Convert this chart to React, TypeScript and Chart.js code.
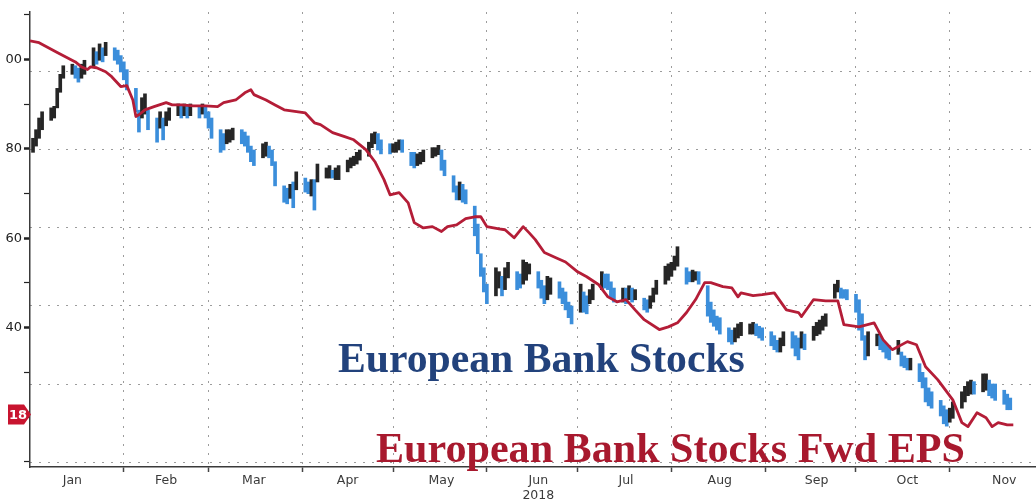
import React, { useEffect, useRef } from 'react';
import { Chart, registerables } from 'chart.js';

Chart.register(...registerables);

// ---------- DATA ----------
const monthLabels = ['Jan', 'Feb', 'Mar', 'Apr', 'May', 'Jun', 'Jul', 'Aug', 'Sep', 'Oct', 'Nov'];
const yearLabel = '2018';
const yearLabelMonth = 'Jun';
// day-of-year (Jan 1 = 0) of the start of each month after January
const monthStartDays = [31, 59, 90, 120, 151, 181, 212, 243, 273, 304];
// day-of-year where each month name sits
const monthLabelDays = [14, 45, 74, 105, 136, 168, 197, 228, 260, 290, 322];

// left axis (Fwd EPS) – labels are cut off at the left edge of the picture
const epsAxisTicks = [10, 20, 30, 40, 50, 60, 70, 80, 90, 100, 110];
const epsTickValues = [100, 80, 60, 40];
const epsTickLabels = ['00', '80', '60', '40'];
const epsBadgeValue = 20.6;
const epsBadgeLabel = '18';

// hidden right axis (index level) – only its grid is visible
const stockGridValues = [80, 90, 100, 110, 120, 130];

// Fwd EPS line: day-of-year and value
const epsDays = [
  0, 3, 9, 15, 17, 19, 20, 22, 25, 27,
  30, 32, 34, 35, 36, 38, 41, 45, 47, 50,
  54, 58, 62, 64, 68, 71, 73, 74, 78, 81,
  84, 91, 94, 96, 100, 104, 107, 111, 114, 117,
  119, 122, 125, 127, 130, 133, 136, 138, 141, 144,
  147, 149, 151, 155, 157, 160, 163, 165, 167, 170,
  174, 177, 181, 184, 188, 191, 194, 197, 200, 203,
  208, 211, 214, 217, 220, 223, 225, 229, 232, 234,
  235, 239, 242, 246, 250, 254, 255, 259, 263, 267,
  269, 274, 279, 282, 285, 290, 293, 296, 300, 305,
  308, 310, 313, 316, 318, 320, 323, 325,
];
const epsValues = [
  104.1, 103.7, 101.5, 99.4, 98.3, 97.7, 98.3, 98.1, 97.2, 96.1,
  93.9, 94.1, 90.9, 87.2, 87.6, 88.7, 89.4, 90.3, 89.8, 89.8,
  89.6, 89.6, 89.4, 90.3, 90.9, 92.5, 93.2, 92.1, 90.9, 89.8,
  88.7, 88.0, 85.8, 85.4, 83.6, 82.7, 82.0, 79.8, 77.1, 73.1,
  69.7, 70.2, 67.9, 63.5, 62.3, 62.6, 61.5, 62.6, 63.0, 64.4,
  64.8, 64.8, 62.6, 62.1, 61.9, 60.1, 62.6, 61.2, 59.7, 56.8,
  55.6, 54.7, 52.5, 51.4, 49.6, 46.9, 45.8, 46.3, 44.0, 41.8,
  39.6, 40.2, 41.1, 43.4, 46.3, 50.1, 50.1, 49.2, 48.9, 46.9,
  47.8, 47.2, 47.4, 47.8, 44.0, 43.4, 42.5, 46.3, 46.0, 46.0,
  40.7, 40.2, 41.1, 37.3, 35.1, 36.9, 36.2, 31.3, 28.4, 23.9,
  18.8, 17.9, 21.0, 19.9, 17.9, 18.8, 18.3, 18.3,
];

// European bank stocks: daily high / low, one row per week (Mon..Fri), from Tue Jan 2
const stockHigh = [
  121.5, 122.6, 124.1, 124.9,
  125.4, 125.6, 127.9, 129.7, 130.8,
  131.0, 130.8, 130.5, 131.0, 131.5,
  133.1, 132.6, 133.6, 133.1, 133.8,
  133.1, 132.8, 132.1, 131.3, 130.3,
  127.9, 125.1, 126.7, 127.2, 125.1,
  124.1, 124.9, 124.1, 124.9, 125.4,
  125.9, 125.6, 125.9, 125.6, 125.9,
  125.6, 125.9, 125.6, 124.9, 124.1,
  122.6, 122.1, 122.6, 122.6, 122.8,
  122.6, 122.3, 121.8, 120.5, 120.0,
  120.8, 121.0, 120.5, 120.0, 118.5,
  115.4, 115.1, 115.6, 115.9, 117.2,
  116.4, 115.9, 116.2, 116.2, 118.2,
  117.7, 118.0, 117.4, 117.7, 118.0,
  118.7, 119.0, 119.2, 119.7, 120.0,
  121.0, 122.1, 122.3, 122.1, 121.3,
  120.8, 120.8, 121.0, 121.3, 121.3,
  119.7, 119.7, 119.5, 119.7, 120.0,
  120.3, 120.3, 120.6, 120.0, 118.7,
  116.7, 115.4, 115.9, 115.6, 114.9,
  112.8, 110.5, 106.7, 104.9, 102.8,
  104.9, 104.4, 103.8, 104.9, 105.6,
  104.4, 104.1, 105.9, 105.6, 105.4,
  104.4, 103.3, 102.6, 103.8, 103.6,
  103.1, 102.3, 101.8, 100.5, 100.0,
  102.8, 101.8, 101.3, 102.1, 102.8,
  104.4, 104.1, 104.1, 103.1, 102.3,
  102.3, 102.3, 102.6, 102.3, 102.1,
  101.0, 100.8, 101.3, 102.3, 103.3,
  105.1, 105.4, 105.6, 106.4, 107.6,
  104.9, 104.4, 104.6, 104.4, 104.4,
  102.6, 100.5, 99.5, 98.7, 98.5,
  97.2, 96.9, 97.2, 97.7, 97.9,
  97.7, 97.9, 97.7, 97.4, 97.2,
  96.7, 96.2, 95.6, 95.9, 96.7,
  96.7, 96.2, 95.9, 96.7, 96.4,
  97.4, 97.9, 98.2, 98.7, 99.0,
  102.8, 103.3, 102.3, 102.1, 102.1,
  101.5, 100.8, 99.0, 96.2, 96.7,
  96.4, 96.2, 95.6, 95.1, 94.9,
  95.6, 94.1, 93.6, 93.3, 93.3,
  92.6, 91.5, 90.8, 89.5, 89.0,
  87.9, 87.2, 86.7, 86.9, 87.7,
  89.0, 89.7, 90.3, 90.5, 90.3,
  91.3, 91.3, 90.5, 90.0, 90.0,
  89.2, 88.7, 88.2,
];
const stockLow = [
  119.7, 120.5, 121.5, 122.6,
  123.8, 124.1, 125.4, 127.4, 129.2,
  129.7, 129.2, 128.7, 129.2, 129.7,
  130.8, 131.0, 131.5, 131.3, 132.1,
  131.5, 131.0, 130.0, 129.0, 127.7,
  124.9, 122.3, 124.1, 124.6, 122.6,
  121.0, 122.8, 121.3, 123.1, 123.8,
  124.4, 124.1, 124.4, 124.1, 124.4,
  124.1, 124.6, 124.1, 122.8, 121.5,
  119.7, 120.0, 120.8, 121.0, 121.3,
  120.8, 120.5, 119.7, 118.5, 118.0,
  119.0, 119.2, 119.0, 118.0, 115.4,
  113.3, 113.1, 113.8, 112.6, 114.9,
  114.6, 114.4, 114.1, 112.3, 115.9,
  116.4, 116.4, 116.4, 116.2, 116.2,
  117.2, 117.7, 118.0, 118.2, 118.7,
  119.2, 120.3, 120.8, 120.0, 119.5,
  119.5, 119.7, 119.7, 120.0, 119.7,
  118.0, 117.7, 118.0, 118.2, 118.5,
  119.0, 119.2, 119.4, 117.4, 116.7,
  114.6, 113.6, 113.6, 113.3, 113.1,
  109.0, 106.7, 103.8, 101.8, 100.3,
  101.3, 102.3, 101.3, 102.1, 103.6,
  102.1, 102.3, 102.8, 103.3, 104.1,
  102.3, 101.0, 100.3, 100.8, 101.5,
  101.0, 100.3, 99.5, 98.5, 97.7,
  99.2, 99.2, 99.0, 100.3, 100.8,
  102.1, 102.3, 102.1, 101.0, 100.5,
  100.5, 100.3, 100.8, 100.5, 100.8,
  99.5, 99.2, 99.7, 100.5, 101.5,
  102.8, 103.3, 103.8, 104.6, 105.1,
  102.8, 103.1, 103.1, 103.3, 102.8,
  98.7, 97.9, 97.4, 96.9, 96.4,
  95.4, 95.1, 95.4, 95.9, 96.2,
  96.4, 96.4, 96.2, 95.9, 95.6,
  94.9, 94.4, 94.1, 94.1, 94.9,
  94.6, 93.6, 93.1, 94.6, 94.4,
  95.6, 96.2, 96.4, 96.9, 97.4,
  101.0, 101.8, 101.0, 101.0, 100.8,
  99.2, 96.9, 95.6, 93.1, 93.6,
  94.9, 94.4, 94.1, 93.3, 93.1,
  93.8, 92.3, 92.1, 91.8, 91.8,
  90.3, 89.5, 87.7, 87.2, 86.9,
  85.9, 84.9, 84.6, 85.1, 85.6,
  86.9, 87.7, 88.5, 88.7, 88.7,
  89.0, 89.2, 88.5, 88.2, 87.9,
  87.4, 86.7, 86.7,
];

const stocksTitle = 'European Bank Stocks';
const epsTitle = 'European Bank Stocks Fwd EPS';

// ---------- STYLE ----------
const UP_COLOR = '#262626';
const DOWN_COLOR = '#3b8edb';
const EPS_COLOR = '#b41d37';
const TITLE_BLUE = '#22427c';
const TITLE_RED = '#a8192e';
const GRID_COLOR = '#9c9c9c';
const AXIS_COLOR = '#3a3a3a';
const BADGE_COLOR = '#c8142f';

// weekdays (2018-01-01 was a Monday, day 0 is New Year holiday)
const stockDays: number[] = [];
for (let d = 1; stockDays.length < stockHigh.length; d++) {
  if (d % 7 < 5) stockDays.push(d);
}

function drawFittedText(ctx: CanvasRenderingContext2D, text: string, left: number, baseline: number, width: number, color: string) {
  ctx.save();
  ctx.font = 'bold 100px "Liberation Serif", "DejaVu Serif", serif';
  const w = ctx.measureText(text).width;
  const size = (100 * width) / w;
  ctx.font = `bold ${size}px "Liberation Serif", "DejaVu Serif", serif`;
  ctx.fillStyle = color;
  ctx.textAlign = 'left';
  ctx.textBaseline = 'alphabetic';
  ctx.fillText(text, left, baseline);
  ctx.restore();
}

const overlayPlugin = {
  id: 'overlay',
  afterDatasetsDraw(chart: any) {
    const ctx = chart.ctx as CanvasRenderingContext2D;
    drawFittedText(ctx, stocksTitle, 338, 372, 407, TITLE_BLUE);
    drawFittedText(ctx, epsTitle, 376, 462, 589, TITLE_RED);
  },
  afterDraw(chart: any) {
    const ctx = chart.ctx as CanvasRenderingContext2D;
    const yScale = chart.scales.yEps;
    const y = yScale.getPixelForValue(epsBadgeValue);
    const right = yScale.right + 1;
    const left = 8;
    const h = 10;
    ctx.save();
    ctx.fillStyle = BADGE_COLOR;
    ctx.beginPath();
    ctx.moveTo(left, y - h);
    ctx.lineTo(right - 7, y - h);
    ctx.lineTo(right, y);
    ctx.lineTo(right - 7, y + h);
    ctx.lineTo(left, y + h);
    ctx.closePath();
    ctx.fill();
    ctx.fillStyle = '#ffffff';
    ctx.font = 'bold 13px "DejaVu Sans", sans-serif';
    ctx.textAlign = 'left';
    ctx.textBaseline = 'middle';
    ctx.fillText(epsBadgeLabel, 9, y + 1);
    ctx.restore();
  },
};

export default function App() {
  const canvasRef = useRef<HTMLCanvasElement | null>(null);

  useEffect(() => {
    if (!canvasRef.current) return;

    const barColors = stockDays.map((_, i) => {
      if (i === 0) return UP_COLOR;
      const mid = (stockHigh[i] + stockLow[i]) / 2;
      const prev = (stockHigh[i - 1] + stockLow[i - 1]) / 2;
      return mid < prev ? DOWN_COLOR : UP_COLOR;
    });

    const chart = new Chart(canvasRef.current, {
      type: 'bar',
      data: {
        datasets: [
          {
            type: 'line',
            label: 'Fwd EPS',
            data: epsDays.map((d, i) => ({ x: d, y: epsValues[i] })),
            borderColor: EPS_COLOR,
            borderWidth: 2.8,
            pointRadius: 0,
            tension: 0,
            borderJoinStyle: 'round',
            xAxisID: 'x',
            yAxisID: 'yEps',
            order: 1,
          } as any,
          {
            type: 'bar',
            label: 'Stocks',
            data: stockDays.map((d, i) => ({ x: d, y: [stockLow[i], stockHigh[i]] })),
            backgroundColor: barColors,
            borderWidth: 0,
            barThickness: 3,
            grouped: false,
            xAxisID: 'x',
            yAxisID: 'y',
            order: 2,
          } as any,
        ],
      },
      options: {
        responsive: false,
        maintainAspectRatio: false,
        animation: false,
        events: [],
        layout: { padding: { top: 12, left: 0, right: 0, bottom: 0 } },
        plugins: { legend: { display: false }, tooltip: { enabled: false } },
        scales: {
          x: {
            type: 'linear',
            position: 'bottom',
            min: 0,
            max: 332.5,
            offset: false,
            weight: 0,
            afterBuildTicks: (axis: any) => {
              axis.ticks = monthStartDays.map((v) => ({ value: v }));
            },
            afterFit: (axis: any) => {
              axis.height = 5;
            },
            ticks: { display: false },
            grid: {
              color: GRID_COLOR,
              lineWidth: 1,
              offset: false,
              drawTicks: true,
              tickLength: 5,
              tickColor: '#444',
              tickWidth: 1.5,
              tickBorderDash: [],
            },
            border: { display: true, color: AXIS_COLOR, width: 1.5, dash: [2, 7] },
          },
          xLabel: {
            type: 'linear',
            position: 'bottom',
            min: 0,
            max: 332.5,
            offset: false,
            weight: 1,
            afterBuildTicks: (axis: any) => {
              axis.ticks = monthLabelDays.map((v) => ({ value: v }));
            },
            afterFit: (axis: any) => {
              axis.height = 28;
            },
            grid: { display: false, drawTicks: false, offset: false },
            border: { display: false },
            ticks: {
              autoSkip: false,
              maxRotation: 0,
              minRotation: 0,
              padding: 1,
              color: '#3a3a3a',
              font: { family: '"DejaVu Sans", sans-serif', size: 12.5 },
              callback: (_v: any, index: number) => {
                const m = monthLabels[index];
                return m === yearLabelMonth ? [m, yearLabel] : m;
              },
            },
          },
          yEps: {
            type: 'linear',
            position: 'left',
            min: 8.88,
            max: 110.56,
            afterBuildTicks: (axis: any) => {
              axis.ticks = epsAxisTicks.map((v) => ({ value: v }));
            },
            afterFit: (axis: any) => {
              axis.width = 30;
            },
            grid: {
              drawOnChartArea: false,
              drawTicks: true,
              tickLength: 6,
              tickColor: '#222',
              tickWidth: (ctx: any) => (epsTickValues.includes(ctx.tick?.value) ? 2.5 : 1.2),
              tickBorderDash: [],
            },
            border: { display: true, color: AXIS_COLOR, width: 1.5 },
            ticks: {
              padding: 2,
              color: '#222',
              font: { family: '"DejaVu Sans", sans-serif', size: 13 },
              callback: (v: any) => {
                const idx = epsTickValues.indexOf(Number(v));
                return idx >= 0 ? epsTickLabels[idx] : '';
              },
            },
          },
          y: {
            type: 'linear',
            position: 'right',
            min: 79.36,
            max: 137.69,
            afterBuildTicks: (axis: any) => {
              axis.ticks = stockGridValues.map((v) => ({ value: v }));
            },
            afterFit: (axis: any) => {
              axis.width = 0;
            },
            ticks: { display: false },
            grid: { color: GRID_COLOR, lineWidth: 1, drawTicks: false, drawOnChartArea: true },
            border: { display: false, dash: [2, 7] },
          },
        },
      } as any,
      plugins: [overlayPlugin],
    });

    return () => {
      chart.destroy();
    };
  }, []);

  return (
    <div style={{ position: 'fixed', left: 0, top: 0, width: 1036, height: 500, background: '#ffffff' }}>
      <canvas ref={canvasRef} width={1036} height={500} style={{ display: 'block' }} />
    </div>
  );
}
